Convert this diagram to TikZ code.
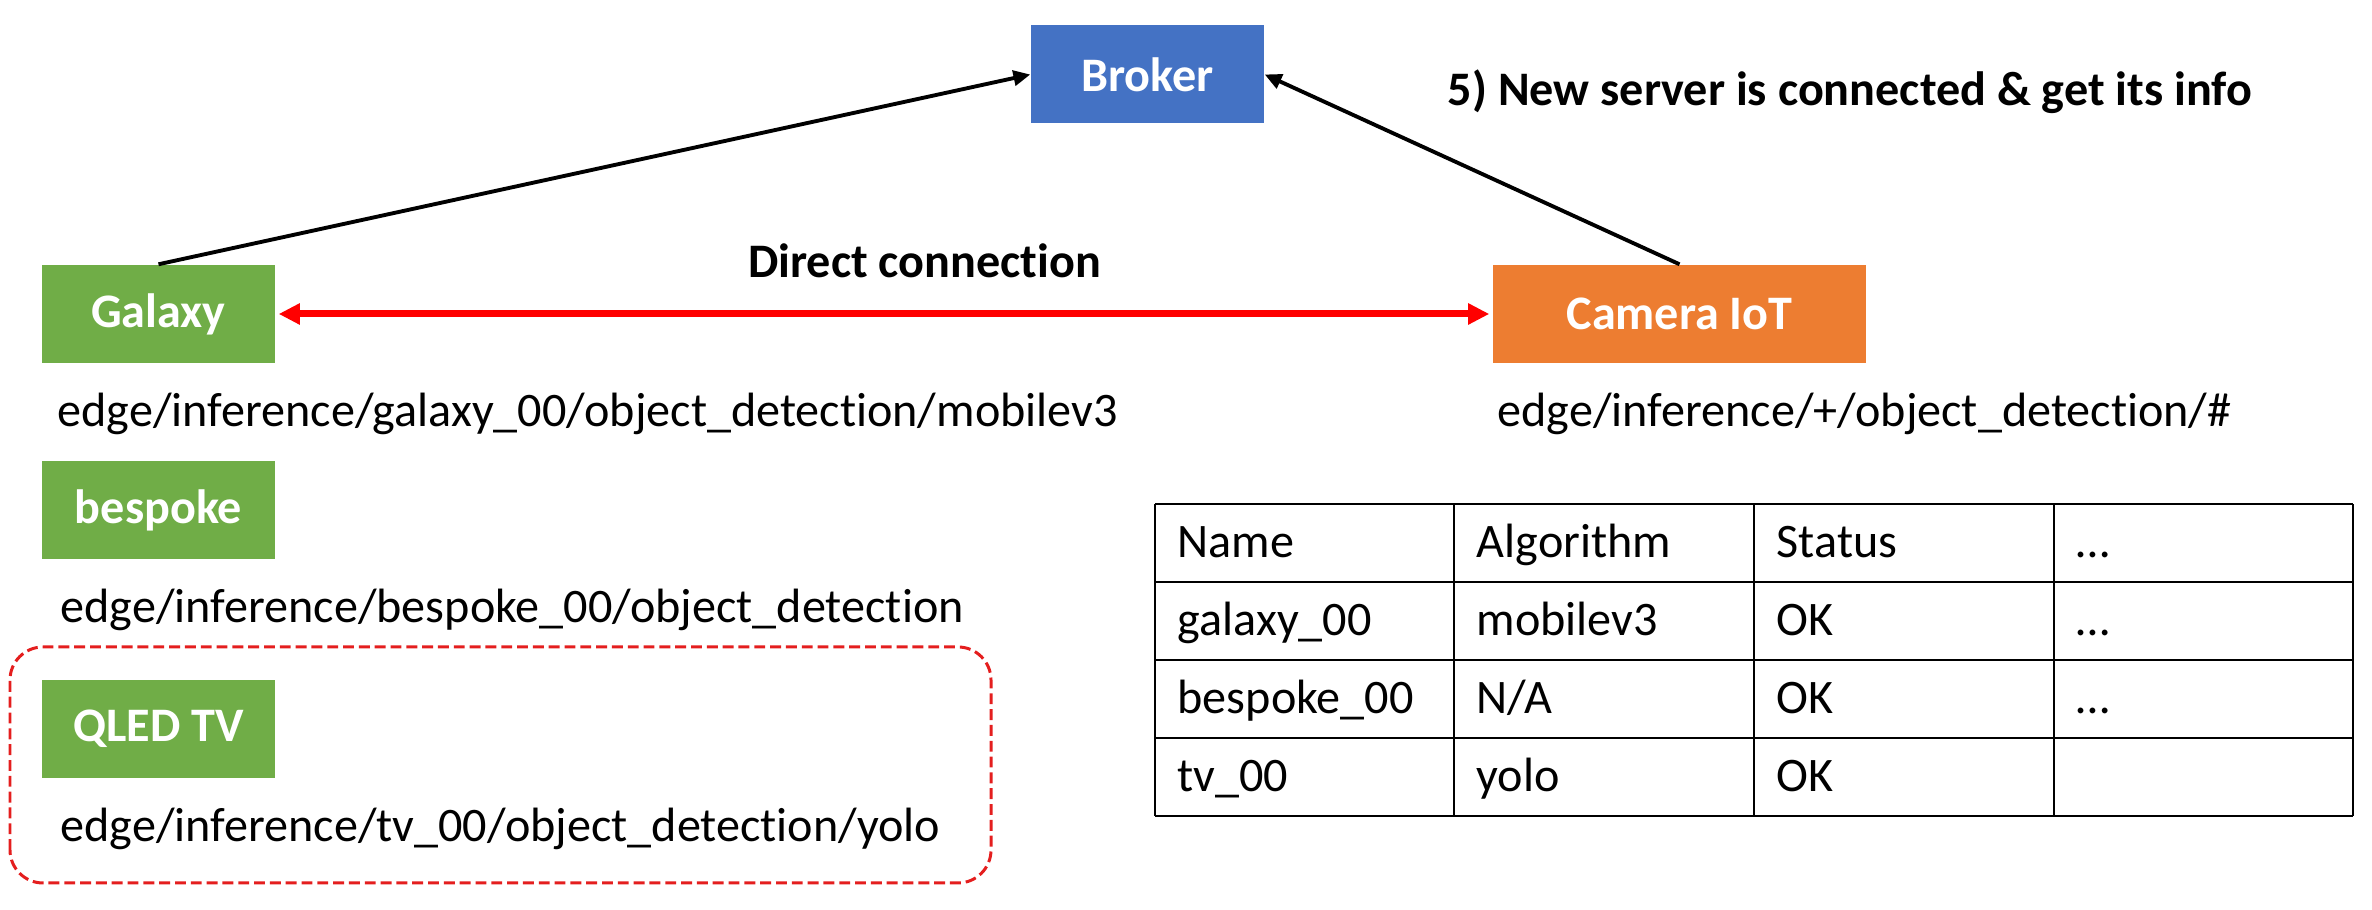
\documentclass[tikz,border=0pt]{standalone}
\usepackage{fontspec}
\setmainfont{Carlito}[Ligatures=NoCommon]
\usetikzlibrary{arrows.meta}
\definecolor{brokerblue}{HTML}{4472C4}
\definecolor{devgreen}{HTML}{70AD47}
\definecolor{camorange}{HTML}{ED7D31}
\definecolor{linkred}{HTML}{FF0000}
\definecolor{groupred}{HTML}{E41E1E}

\begin{document}
\begin{tikzpicture}[
    devbox/.style={minimum width=2.33cm, minimum height=0.98cm, inner sep=0pt, text=white, font=\fontsize{13.7}{16}\selectfont\bfseries},
    topic/.style={anchor=base west, inner sep=0pt, font=\fontsize{13.7}{16}\selectfont},
    cell/.style={anchor=base west, inner sep=0pt, font=\fontsize{13.7}{16}\selectfont},
    msg/.style={draw=black, line width=1.1pt, -{Triangle[length=4.8pt, width=4.3pt]}}
]
\useasboundingbox (0,0) rectangle (23.72,9.10);

% broker and devices
\node [devbox, fill=brokerblue] (broker) at (11.475,8.355) {Broker};
\node [devbox, fill=devgreen] (galaxy) at (1.585,5.96) {Galaxy};
\node [devbox, fill=camorange, minimum width=3.73cm] (camera) at (16.795,5.96) {Camera IoT};
\node [devbox, fill=devgreen] (bespoke) at (1.585,4.00) {bespoke};
\node [devbox, fill=devgreen] (qled) at (1.585,1.81) {QLED TV};

% topics
\node [topic] (galaxytopic) at (0.57,4.83) {edge/inference/galaxy\_00/object\_detection/mobilev3};
\node [topic] (bespoketopic) at (0.60,2.87) {edge/inference/bespoke\_00/object\_detection};
\node [topic] (qledtopic) at (0.60,0.68) {edge/inference/tv\_00/object\_detection/yolo};
\node [topic] (cameratopic) at (14.97,4.83) {edge/inference/+/object\_detection/\#};

\draw [groupred, line width=0.85pt, dash pattern=on 3.1pt off 1.4pt, rounded corners=0.33cm] (0.10,0.27) rectangle (9.91,2.63);

% connections
\draw [msg] (galaxy.north) -- (broker.west);
\draw [msg] (camera.north) -- (broker.east);
\draw [linkred, line width=2pt, {Triangle[length=6pt,width=5.7pt]}-{Triangle[length=6pt,width=5.7pt]}, shorten >=0.03cm, shorten <=0.03cm] (galaxy.east) -- (camera.west);

\node [anchor=base, inner sep=0pt, font=\fontsize{13.7}{16}\selectfont\bfseries] (direct) at (9.245,6.32) {Direct connection};
\node [anchor=base, inner sep=0pt, font=\fontsize{13.7}{16}\selectfont\bfseries] (step5) at (18.50,8.04) {5) New server is connected \& get its info};

% server table
\foreach \x in {11.55,14.54,17.54,20.54,23.53}
    \draw [line width=0.7pt] (\x,0.94) -- (\x,4.06);
\foreach \y in {4.06,3.28,2.50,1.72,0.94}
    \draw [line width=0.7pt] (11.55,\y) -- (23.53,\y);

\node [cell] (name0) at (11.77,3.52) {Name};
\node [cell] (algo0) at (14.76,3.52) {Algorithm};
\node [cell] (status0) at (17.76,3.52) {Status};
\node [cell] (more0) at (20.76,3.52) {…};
\node [cell] (name1) at (11.77,2.74) {galaxy\_00};
\node [cell] (algo1) at (14.76,2.74) {mobilev3};
\node [cell] (status1) at (17.76,2.74) {OK};
\node [cell] (more1) at (20.76,2.74) {…};
\node [cell] (name2) at (11.77,1.96) {bespoke\_00};
\node [cell] (algo2) at (14.76,1.96) {N/A};
\node [cell] (status2) at (17.76,1.96) {OK};
\node [cell] (more2) at (20.76,1.96) {…};
\node [cell] (name3) at (11.77,1.18) {tv\_00};
\node [cell] (algo3) at (14.76,1.18) {yolo};
\node [cell] (status3) at (17.76,1.18) {OK};
\end{tikzpicture}
\end{document}
